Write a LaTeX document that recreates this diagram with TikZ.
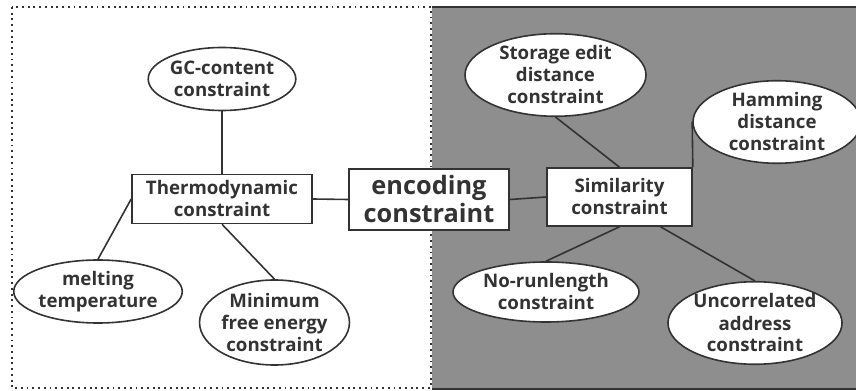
\documentclass[tikz,border=0pt]{standalone}
\usepackage{fontspec}
\setmainfont{Open Sans}
\usetikzlibrary{shapes.geometric}
\definecolor{inkgray}{HTML}{333333}
\definecolor{panelgray}{HTML}{8E8E8E}

\begin{document}
\begin{tikzpicture}[
      x=0.75pt, y=-0.75pt,
      constraintbox/.style={
        draw=inkgray,
        fill=white,
        line width=1.2pt,
        align=center,
        inner sep=0pt,
        text=inkgray,
        font=\fontsize{14}{16.5}\selectfont\bfseries
      },
      leaf/.style={
        ellipse,
        draw=inkgray,
        fill=white,
        line width=1.2pt,
        align=center,
        inner sep=0pt,
        text=inkgray,
        font=\fontsize{14}{16.5}\selectfont\bfseries
      },
      link/.style={draw=inkgray, line width=1.2pt}
    ]
    \useasboundingbox (0,0) rectangle (856,391);
    \clip (0,0) rectangle (856,391);

    % two panels
    \fill[panelgray] (432,7) rectangle (870,389);
    \draw[inkgray, line width=1.2pt] (432,7) -- (870,7);
    \draw[inkgray, line width=1.2pt] (432,389) -- (870,389);
    \draw[inkgray, line width=1.3pt, dash pattern=on 1.4pt off 2.9pt]
      (12,7) rectangle (431,388);

    % centre and the two groups
    \node[constraintbox, minimum width=120pt, minimum height=45.75pt,
          font=\fontsize{19}{21}\selectfont\bfseries] (encoding) at (429,199.5)
      {encoding\\constraint};
    \node[constraintbox, minimum width=135pt, minimum height=36.75pt] (thermo) at (222,199)
      {Thermodynamic\\constraint};
    \node[constraintbox, minimum width=108.75pt, minimum height=43.5pt] (similarity) at (619.5,197)
      {Similarity\\constraint};

    % thermodynamic leaves
    \node[leaf, minimum width=98.25pt, minimum height=47.25pt] (gccontent) at (222,79)
      {GC-content\\constraint};
    \node[leaf, minimum width=108pt, minimum height=47.25pt] (melting) at (98,291.5)
      {melting\\temperature};
    \node[leaf, minimum width=104.25pt, minimum height=63.75pt] (freeenergy) at (274.5,322.5)
      {Minimum\\free energy\\constraint};

    % similarity leaves
    \node[leaf, minimum width=135.75pt, minimum height=60pt] (storage) at (555.5,75)
      {Storage edit\\distance\\constraint};
    \node[leaf, minimum width=126pt, minimum height=55.5pt] (hamming) at (777,122)
      {Hamming\\distance\\constraint};
    \node[leaf, minimum width=139.5pt, minimum height=45pt] (norunlength) at (546,292)
      {No-runlength\\constraint};
    \node[leaf, minimum width=123pt, minimum height=61.5pt] (uncorrelated) at (755,323)
      {Uncorrelated\\address\\constraint};

    \draw[link] (gccontent.south) -- (thermo.north);
    \draw[link] (thermo.west) -- (melting.north);
    \draw[link] (thermo.south) -- (freeenergy.north);
    \draw[link] (thermo.east) -- (encoding.west);
    \draw[link] (encoding.east) -- (similarity.west);
    \draw[link] (storage.south) -- (similarity.north);
    \draw[link] (similarity.north east) -- (hamming.west);
    \draw[link] (similarity.south) -- (norunlength.north);
    \draw[link] (similarity.324) -- (uncorrelated.north);
  \end{tikzpicture}
\end{document}
